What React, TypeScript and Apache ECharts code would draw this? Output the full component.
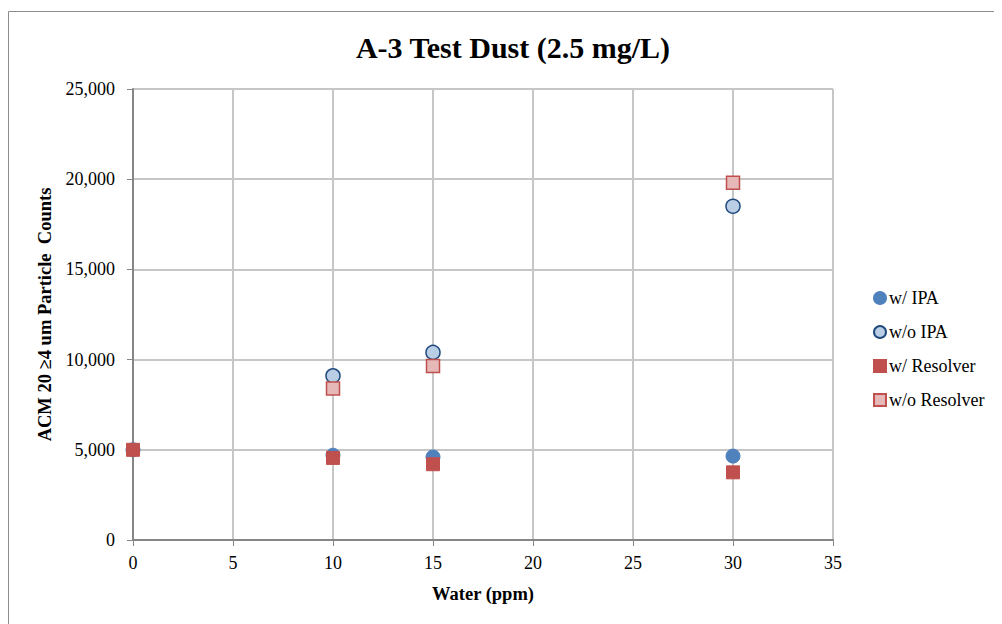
import React, { useEffect, useRef } from "react";
import * as echarts from "echarts";

const xWithIPA = [0, 10, 15, 30];
const yWithIPA = [5000, 4700, 4600, 4650];
const xWithoutIPA = [10, 15, 30];
const yWithoutIPA = [9100, 10400, 18500];
const xWithResolver = [0, 10, 15, 30];
const yWithResolver = [5000, 4550, 4200, 3750];
const xWithoutResolver = [10, 15, 30];
const yWithoutResolver = [8400, 9650, 19800];
const seriesNames = ["w/ IPA", "w/o IPA", "w/ Resolver", "w/o Resolver"];

const zip = (xs: number[], ys: number[]) => xs.map((x, i) => [x, ys[i]]);

export default function App() {
  const ref = useRef<HTMLDivElement>(null);
  useEffect(() => {
    const chart = echarts.init(ref.current!, undefined, { renderer: "svg" });
    const font = "Liberation Serif";
    chart.setOption({
      animation: false,
      textStyle: { fontFamily: font },
      title: {
        text: "A-3 Test Dust (2.5 mg/L)",
        left: 500,
        top: 19,
        textAlign: "center",
        textStyle: { fontFamily: font, fontSize: 30, fontWeight: "bold", color: "#000" },
      },
      graphic: [
        {
          type: "rect",
          shape: { x: 0.5, y: 3.5, width: 1100, height: 800 },
          style: { fill: "none", stroke: "#8c8c8c", lineWidth: 1 },
          silent: true,
        },
      ],
      legend: {
        orient: "vertical",
        left: 860,
        top: 276,
        itemWidth: 12,
        itemHeight: 12,
        itemGap: 16,
        textStyle: { fontFamily: font, fontSize: 18, color: "#000", padding: [0, 0, 0, -2] },
        data: seriesNames,
      },
      grid: { left: 125, top: 81, width: 700, height: 451, containLabel: false },
      xAxis: {
        type: "value",
        min: 0,
        max: 35,
        interval: 5,
        name: "Water (ppm)",
        nameLocation: "middle",
        nameGap: 44,
        nameTextStyle: { fontFamily: font, fontSize: 18.5, fontWeight: "bold", color: "#000" },
        axisLine: { show: true, onZero: false, lineStyle: { color: "#868686", width: 2 } },
        axisTick: { show: true, length: 6, lineStyle: { color: "#868686", width: 1 } },
        axisLabel: { fontFamily: font, fontSize: 18, color: "#000", margin: 14 },
        splitLine: { show: true, lineStyle: { color: "#c6c6c6", width: 2 } },
      },
      yAxis: {
        type: "value",
        min: 0,
        max: 25000,
        interval: 5000,
        name: "ACM 20 ≥4 um Particle  Counts",
        nameLocation: "middle",
        nameGap: 78,
        nameRotate: 90,
        nameTextStyle: { fontFamily: font, fontSize: 18.5, fontWeight: "bold", color: "#000" },
        axisLine: { show: true, onZero: false, lineStyle: { color: "#868686", width: 2 } },
        axisTick: { show: true, length: 6, lineStyle: { color: "#868686", width: 1 } },
        axisLabel: {
          fontFamily: font,
          fontSize: 18,
          color: "#000",
          margin: 18,
          formatter: (v: number) => v.toLocaleString("en-US"),
        },
        splitLine: { show: true, lineStyle: { color: "#c6c6c6", width: 2 } },
      },
      series: [
        {
          name: seriesNames[0],
          type: "scatter",
          symbol: "circle",
          symbolSize: 14,
          itemStyle: { color: "#4f81bd", borderColor: "#4f81bd", borderWidth: 1, opacity: 1 },
          data: zip(xWithIPA, yWithIPA),
          z: 2,
        },
        {
          name: seriesNames[1],
          type: "scatter",
          symbol: "circle",
          symbolSize: 14,
          itemStyle: { color: "#b9cde5", borderColor: "#1f497d", borderWidth: 1.5, opacity: 1 },
          data: zip(xWithoutIPA, yWithoutIPA),
          z: 2,
        },
        {
          name: seriesNames[2],
          type: "scatter",
          symbol: "rect",
          symbolSize: 13,
          itemStyle: { color: "#c0504d", borderColor: "#c0504d", borderWidth: 1, opacity: 1 },
          data: zip(xWithResolver, yWithResolver),
          z: 3,
        },
        {
          name: seriesNames[3],
          type: "scatter",
          symbol: "rect",
          symbolSize: 13,
          itemStyle: { color: "#e6b9b8", borderColor: "#c0504d", borderWidth: 1.5, opacity: 1 },
          data: zip(xWithoutResolver, yWithoutResolver),
          z: 3,
        },
      ],
    });
    return () => chart.dispose();
  }, []);
  return <div ref={ref} style={{ width: 994, height: 616 }} />;
}
